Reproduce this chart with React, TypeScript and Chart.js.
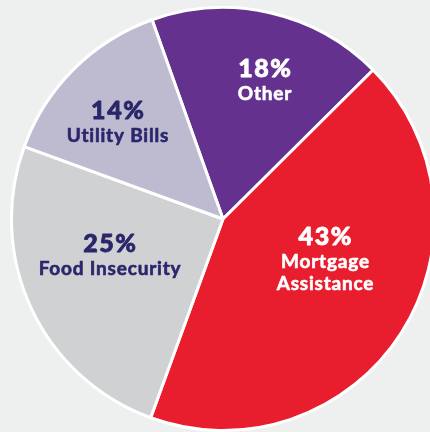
import React, { useEffect, useRef } from "react";
import { Chart, registerables } from "chart.js";

Chart.register(...registerables);

const categories = ["Other", "Mortgage Assistance", "Food Insecurity", "Utility Bills"];
const nameLines = [["Other"], ["Mortgage", "Assistance"], ["Food Insecurity"], ["Utility Bills"]];
const shares = [18, 43, 25, 14];
const percentLabels = ["18%", "43%", "25%", "14%"];
const sliceColors = ["#65318e", "#e81e2f", "#d0d1d3", "#bebbd1"];
const textColors = ["#ffffff", "#ffffff", "#29266b", "#29266b"];

// label anchor placement relative to each arc: [angle offset (deg), radius fraction]
const labelPlacement: [number, number][] = [
  [2.7, 0.736],
  [-22.6, 0.49],
  [12.6, 0.549],
  [0.5, 0.714],
];

const FONT = "Lato, 'Open Sans', sans-serif";

function drawSpaced(ctx: any, text: string, x: number, y: number, spacing: number, weight: number) {
  const hasLS = "letterSpacing" in ctx;
  const dx = hasLS ? spacing / 2 : 0;
  if (hasLS) ctx.letterSpacing = `${spacing}px`;
  ctx.lineWidth = weight;
  ctx.lineJoin = "round";
  ctx.strokeText(text, x + dx, y);
  ctx.fillText(text, x + dx, y);
  if (hasLS) ctx.letterSpacing = "0px";
}

const sliceLabelPlugin = {
  id: "sliceLabels",
  afterDatasetsDraw(chart: any) {
    const ctx = chart.ctx;
    const meta = chart.getDatasetMeta(0);
    meta.data.forEach((arc: any, i: number) => {
      const { x, y, startAngle, endAngle, outerRadius } = arc.getProps(
        ["x", "y", "startAngle", "endAngle", "outerRadius"],
        true
      );
      const [offDeg, frac] = labelPlacement[i];
      const a = (startAngle + endAngle) / 2 + (offDeg * Math.PI) / 180;
      const px = x + Math.cos(a) * outerRadius * frac;
      const py = y + Math.sin(a) * outerRadius * frac;
      ctx.save();
      ctx.fillStyle = textColors[i];
      ctx.strokeStyle = textColors[i];
      ctx.textAlign = "center";
      ctx.textBaseline = "middle";
      ctx.font = `900 25px ${FONT}`;
      drawSpaced(ctx, percentLabels[i], px, py, 1.6, 0.8);
      ctx.font = `bold 19px ${FONT}`;
      nameLines[i].forEach((line, j) => {
        drawSpaced(ctx, line, px, py + 25 + j * 22, 0.8, 0.6);
      });
      ctx.restore();
    });
  },
};

export default function App() {
  const canvasRef = useRef<HTMLCanvasElement | null>(null);

  useEffect(() => {
    if (!canvasRef.current) return;
    const chart = new Chart(canvasRef.current, {
      type: "pie",
      data: {
        labels: categories,
        datasets: [
          {
            data: shares,
            backgroundColor: sliceColors,
            borderColor: "#ffffff",
            borderWidth: 3,
          },
        ],
      },
      options: {
        responsive: false,
        maintainAspectRatio: false,
        animation: false,
        rotation: -19.6,
        layout: { padding: 0 },
        plugins: {
          legend: { display: false },
          tooltip: { enabled: false },
        },
      },
      plugins: [sliceLabelPlugin],
    });
    return () => chart.destroy();
  }, []);

  return (
    <div
      style={{
        position: "fixed",
        left: 0,
        top: 0,
        width: 430,
        height: 432,
        overflow: "hidden",
        background: "#eef0ef",
      }}
    >
      <canvas
        ref={canvasRef}
        width={426}
        height={426}
        style={{ position: "absolute", left: 10, top: 6, width: 426, height: 426 }}
      />
    </div>
  );
}
